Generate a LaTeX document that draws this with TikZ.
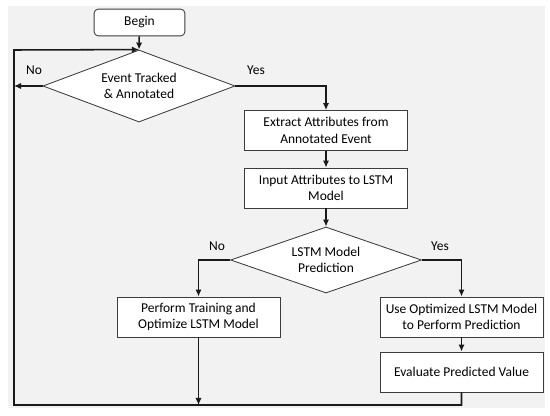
\documentclass[tikz,border=0pt]{standalone}
\usepackage{fontspec}
\setmainfont{Carlito}
\usetikzlibrary{arrows.meta,shapes.geometric}
\definecolor{ink}{HTML}{1A1A1A}
\definecolor{edge}{HTML}{3C3C3C}
\definecolor{pale}{HTML}{F2F2F2}
\tikzset{
  stepbox/.style={draw=edge,line width=0.6pt,fill=white,align=center,
    minimum width=4.07cm,minimum height=1cm,inner sep=1pt,font=\fontsize{9.6}{11.6}\selectfont},
  startbox/.style={stepbox,rounded corners=3pt,minimum width=2.27cm,minimum height=0.67cm},
  choice/.style={draw=edge,line width=0.6pt,fill=white,align=center,diamond,inner sep=0pt,
    font=\fontsize{9.6}{11.6}\selectfont},
  flow/.style={->,line width=1.1pt,draw=ink},
  tag/.style={font=\fontsize{9.6}{11.6}\selectfont}
}

\begin{document}
\begin{tikzpicture}[>={Latex[length=5pt,width=4.5pt]},x=0.025cm,y=-0.025cm]
\useasboundingbox (0,0) rectangle (550,415);
\fill[pale] (8,6) rectangle (545,408);
% nodes
\node[startbox] (begin) at (139.5,22.5) {Begin};
\node[choice,minimum width=4.8cm,minimum height=1.8cm,aspect=2.67] (tracked) at (139,86) {Event Tracked\\ \& Annotated};
\node[stepbox] (extract) at (326,130.5) {Extract Attributes from\\Annotated Event};
\node[stepbox] (input) at (326,188) {Input Attributes to LSTM\\Model};
\node[choice,minimum width=4.77cm,minimum height=1.65cm,aspect=2.9] (predict) at (326,260) {LSTM Model\\Prediction};
\node[stepbox] (train) at (198.5,317) {Perform Training and\\Optimize LSTM Model};
\node[stepbox] (usemodel) at (461.5,317) {Use Optimized LSTM Model\\to Perform Prediction};
\node[stepbox] (evaluate) at (461.5,372) {Evaluate Predicted Value};
\coordinate (loopbr) at (461.5,405);
\coordinate (loopbl) at (14,405);
\coordinate (looptl) at (14,50);
\coordinate (noend) at (14,86);
\coordinate (trainend) at (198.5,405);
% connectors
\draw[flow] (begin) -- (tracked.north);
\draw[flow] (tracked.west) -- (noend);
\draw[flow] (tracked.east) -| (extract.north);
\draw[flow] (extract) -- (input);
\draw[flow] (input) -- (predict.north);
\draw[flow] (predict.west) -| (train.north);
\draw[flow] (predict.east) -| (usemodel.north);
\draw[flow] (usemodel) -- (evaluate);
\draw[flow] (train.south) -- (trainend);
\draw[flow] (evaluate.south) -- (loopbr) -- (loopbl) -- (looptl) -- (tracked.north);
% labels
\node[tag] (notrack) at (34,70) {No};
\node[tag] (yestrack) at (256,70) {Yes};
\node[tag] (nopred) at (217,246) {No};
\node[tag] (yespred) at (440,246) {Yes};
\end{tikzpicture}
\end{document}
